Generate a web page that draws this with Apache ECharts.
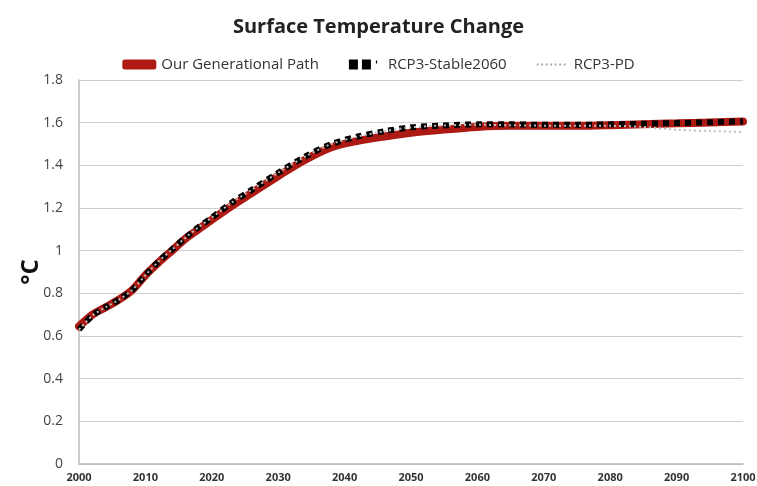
<!DOCTYPE html>
<html>
<head>
<meta charset="utf-8">
<script src="https://cdn.jsdelivr.net/npm/echarts@6/dist/echarts.min.js"></script>
<style>html,body{margin:0;padding:0;background:#fff;}#c{width:757px;height:486px;}</style>
</head>
<body>
<div id="c"></div>
<script>
var years = [2000,2002,2004,2006,2008,2010,2012,2014,2016,2018,2020,2023,2026,2030,2034,2038,2042,2046,2050,2055,2060,2065,2070,2075,2080,2085,2090,2095,2100];
var ourPath = [0.645,0.70,0.735,0.77,0.815,0.885,0.945,1.0,1.055,1.10,1.145,1.21,1.27,1.35,1.425,1.485,1.515,1.535,1.553,1.568,1.58,1.585,1.585,1.585,1.588,1.593,1.597,1.601,1.605];
var stable2060 = [0.63,0.695,0.735,0.77,0.815,0.885,0.95,1.005,1.06,1.11,1.155,1.225,1.285,1.365,1.44,1.50,1.535,1.56,1.578,1.587,1.592,1.592,1.59,1.59,1.592,1.595,1.598,1.602,1.606];
var rcp3pd = [0.63,0.695,0.735,0.77,0.815,0.885,0.95,1.005,1.06,1.11,1.155,1.225,1.285,1.365,1.44,1.50,1.535,1.56,1.578,1.587,1.59,1.588,1.586,1.585,1.585,1.58,1.567,1.561,1.556];
var seriesNames = ['Our Generational Path','RCP3-Stable2060','RCP3-PD'];
var yTicks = {min:0, max:1.8, interval:0.2};
var xTicks = {min:2000, max:2100, interval:10};

function pairs(ys){ return years.map(function(y,i){ return [y, ys[i]]; }); }

var chart = echarts.init(document.getElementById('c'));
chart.setOption({
  backgroundColor:'#fff',
  animation:false,
  title:{
    text:'Surface Temperature Change',
    left:'center', top:12,
    textStyle:{fontFamily:'Open Sans', fontWeight:'bold', fontSize:20, color:'#222'}
  },
  legend:{
    top:52, left:'center',
    itemWidth:34, itemHeight:10, itemGap:30,
    textStyle:{fontFamily:'Open Sans', fontSize:15, color:'#333'},
    data:[
      {name:seriesNames[0], icon:'roundRect', itemStyle:{color:'#ad1a14'}},
      {name:seriesNames[1], icon:'path://M0,0h9v10h-9zM13,0h9v10h-9zM27,1h1.2v3h-1.2zM34,5h0.01v0.01h-0.01z', itemStyle:{color:'#000'}},
      {name:seriesNames[2], icon:'path://M0,4h2v2h-2zM4.5,4h2v2h-2zM9,4h2v2h-2zM13.5,4h2v2h-2zM18,4h2v2h-2zM22.5,4h2v2h-2zM27,4h2v2h-2zM0,0h0.01v0.01h-0.01zM30,10h0.01v0.01h-0.01z', itemStyle:{color:'#aaa'}}
    ]
  },
  grid:{left:79, right:14, top:80, bottom:22, containLabel:false, outerBoundsMode:'none'},
  xAxis:{
    type:'value', min:xTicks.min, max:xTicks.max, interval:xTicks.interval,
    axisLine:{lineStyle:{color:'#bbb', width:1.5}},
    axisTick:{show:false},
    splitLine:{show:false},
    axisLabel:{fontFamily:'Open Sans', fontWeight:'bold', fontSize:11, color:'#333', margin:8,
      formatter:function(v){ return String(v); }}
  },
  yAxis:{
    type:'value', min:yTicks.min, max:yTicks.max, interval:yTicks.interval,
    name:'°C', nameLocation:'middle', nameGap:36, nameRotate:90, nameMoveOverlap:false,
    nameTextStyle:{fontFamily:'Open Sans', fontWeight:'bold', fontSize:24, color:'#111'},
    axisLine:{show:true, lineStyle:{color:'#bbb', width:1.5}},
    axisTick:{show:false},
    splitLine:{lineStyle:{color:'#cfcfcf', width:1.2}},
    axisLabel:{fontFamily:'Open Sans', fontSize:14, color:'#444', margin:16}
  },
  series:[
    {name:seriesNames[0], type:'line', data:pairs(ourPath), smooth:0.3, symbol:'none',
     lineStyle:{color:'#ad1a14', width:8, cap:'round'}, itemStyle:{color:'#ad1a14'}, z:2},
    {name:seriesNames[1], type:'line', data:pairs(stable2060), smooth:0.3, symbol:'none',
     lineStyle:{color:'#000', width:6, type:[6,5]}, itemStyle:{color:'#000'}, z:3},
    {name:seriesNames[2], type:'line', data:pairs(rcp3pd), smooth:0.3, symbol:'none',
     lineStyle:{color:'#bdbdbd', width:2, type:[2,3]}, itemStyle:{color:'#aaa'}, z:4}
  ]
});
</script>
</body>
</html>
